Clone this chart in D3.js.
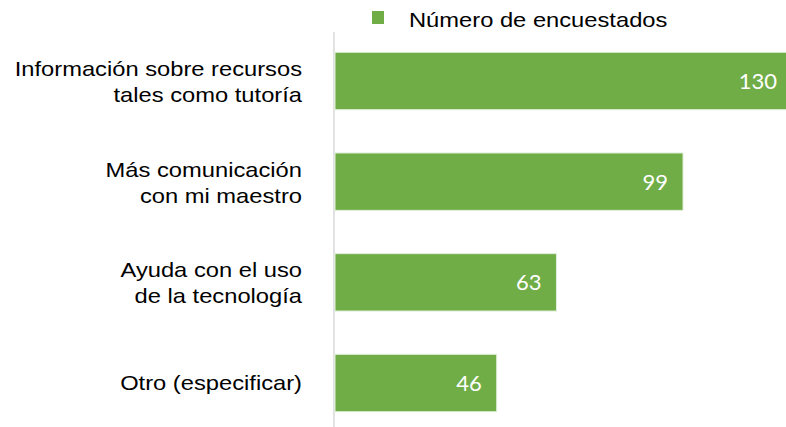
<!DOCTYPE html>
<html>
<head>
<meta charset="utf-8">
<script src="https://cdn.jsdelivr.net/npm/d3@7"></script>
<style>
  body { margin: 0; background: #fff; }
  svg { display: block; }
</style>
</head>
<body>
<div class="wrapper"></div>
<script>
// chart data
var categories = [
  "Información sobre recursos|tales como tutoría",
  "Más comunicación|con mi maestro",
  "Ayuda con el uso|de la tecnología",
  "Otro (especificar)"
];
var values = [130, 99, 63, 46];
var seriesName = "Número de encuestados";

var width = 786, height = 427;
var green = "#70ad47";
var stretch = 1.13; // labels in the picture look a bit wide

var svg = d3.select(".wrapper").append("svg")
    .attr("width", width)
    .attr("height", height);

var x = d3.scaleLinear().domain([0, 130]).range([335, 792]);
var y = d3.scaleBand().domain(categories).range([9, 455])
    .paddingInner(0.43).paddingOuter(0.43);

// left axis line
svg.append("line")
    .attr("x1", 334).attr("x2", 334)
    .attr("y1", 32).attr("y2", height)
    .attr("stroke", "#d9d9d9")
    .attr("stroke-width", 1.5);

// bars
svg.selectAll("rect.bar")
    .data(values)
    .enter().append("rect")
    .attr("class", "bar")
    .attr("x", x(0))
    .attr("y", function(d, i) { return y(categories[i]); })
    .attr("width", function(d) { return x(d) - x(0); })
    .attr("height", y.bandwidth())
    .attr("fill", green)
    .attr("stroke", "#e2efda")
    .attr("stroke-width", 1);

// value labels
svg.selectAll("text.val")
    .data(values)
    .enter().append("text")
    .attr("class", "val")
    .attr("x", function(d) { return x(d) - 15; })
    .attr("y", function(d, i) { return y(categories[i]) + y.bandwidth() / 2 + 8; })
    .attr("text-anchor", "end")
    .style("font-family", "Lato, sans-serif")
    .style("font-size", "22px")
    .style("fill", "#fff")
    .text(function(d) { return d; });

// category labels, right aligned
var labels = svg.selectAll("g.cat")
    .data(categories)
    .enter().append("g")
    .attr("class", "cat")
    .attr("transform", function(d) {
        return "translate(302," + (y(d) + y.bandwidth() / 2) + ") scale(" + stretch + ",1)";
    });

labels.each(function(d) {
    var lines = d.split("|");
    var g = d3.select(this);
    lines.forEach(function(line, k) {
        var dy = lines.length == 1 ? 7 : (k == 0 ? -5 : 21);
        g.append("text")
            .attr("x", 0)
            .attr("y", dy)
            .attr("text-anchor", "end")
            .style("font-family", "'Liberation Sans', Arial, sans-serif")
            .style("font-size", "21px")
            .style("fill", "#000")
            .text(line);
    });
});

// legend
svg.append("rect")
    .attr("x", 372).attr("y", 11)
    .attr("width", 12).attr("height", 13)
    .attr("fill", green);
svg.append("text")
    .attr("transform", "translate(409,27) scale(" + stretch + ",1)")
    .style("font-family", "'Liberation Sans', Arial, sans-serif")
    .style("font-size", "21px")
    .style("fill", "#000")
    .text(seriesName);
</script>
</body>
</html>
